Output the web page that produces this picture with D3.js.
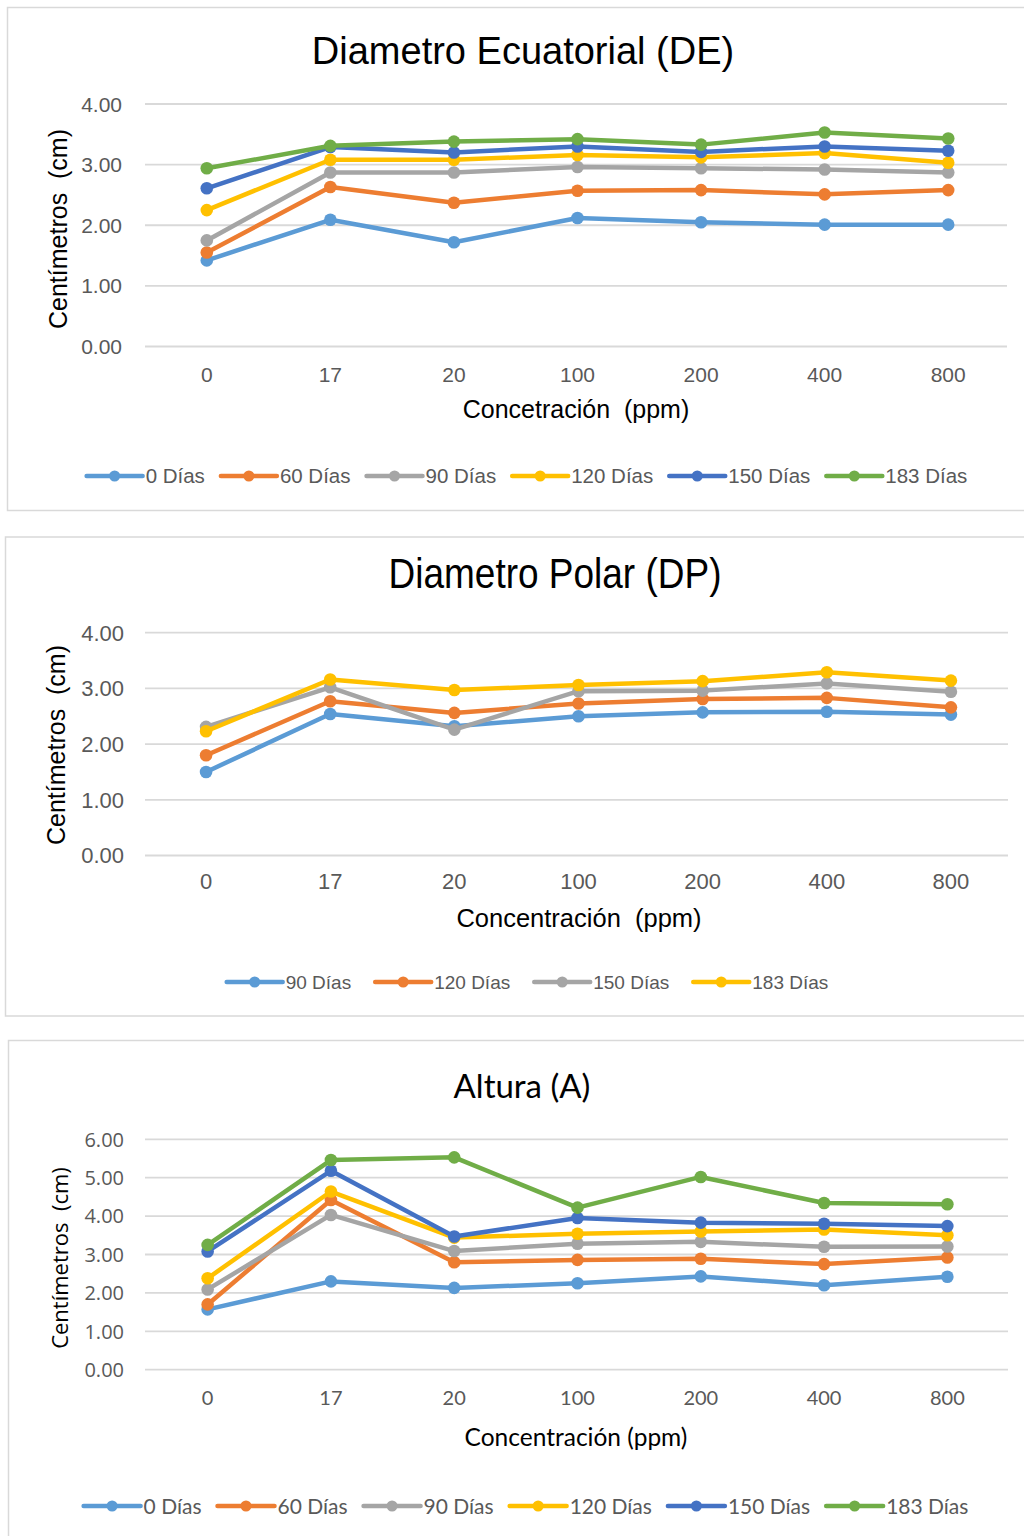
<!DOCTYPE html>
<html>
<head>
<meta charset="utf-8">
<script src="https://cdn.jsdelivr.net/npm/d3@7"></script>
<style>
  html, body { margin: 0; padding: 0; background: #fff; }
  svg { display: block; }
</style>
</head>
<body>
<svg id="c" width="1024" height="1536"></svg>
<script>
// ---------- DATA ----------
const categories = ["0", "17", "20", "100", "200", "400", "800"];

// Chart 1: Diametro Ecuatorial (DE)
const deSeriesNames = ["0 Días", "60 Días", "90 Días", "120 Días", "150 Días", "183 Días"];
const de0   = [1.42, 2.09, 1.72, 2.12, 2.05, 2.01, 2.01];
const de60  = [1.55, 2.63, 2.37, 2.57, 2.58, 2.51, 2.58];
const de90  = [1.75, 2.87, 2.87, 2.96, 2.94, 2.92, 2.87];
const de120 = [2.25, 3.08, 3.08, 3.16, 3.12, 3.19, 3.03];
const de150 = [2.61, 3.29, 3.20, 3.30, 3.21, 3.30, 3.23];
const de183 = [2.94, 3.31, 3.38, 3.42, 3.33, 3.53, 3.43];
const deTicks = [0, 1, 2, 3, 4];

// Chart 2: Diametro Polar (DP)
const dpSeriesNames = ["90 Días", "120 Días", "150 Días", "183 Días"];
const dp90  = [1.50, 2.54, 2.32, 2.50, 2.57, 2.58, 2.53];
const dp120 = [1.80, 2.77, 2.56, 2.73, 2.81, 2.83, 2.66];
const dp150 = [2.31, 3.02, 2.26, 2.95, 2.96, 3.09, 2.94];
const dp183 = [2.23, 3.16, 2.97, 3.06, 3.13, 3.29, 3.14];
const dpTicks = [0, 1, 2, 3, 4];

// Chart 3: Altura (A)
const aSeriesNames = ["0 Días", "60 Días", "90 Días", "120 Días", "150 Días", "183 Días"];
const a0   = [1.57, 2.30, 2.13, 2.25, 2.43, 2.20, 2.42];
const a60  = [1.70, 4.42, 2.80, 2.86, 2.89, 2.75, 2.92];
const a90  = [2.09, 4.03, 3.09, 3.28, 3.33, 3.20, 3.21];
const a120 = [2.38, 4.64, 3.44, 3.54, 3.60, 3.65, 3.50];
const a150 = [3.08, 5.18, 3.47, 3.95, 3.83, 3.80, 3.74];
const a183 = [3.25, 5.46, 5.53, 4.22, 5.02, 4.34, 4.31];
const aTicks = [0, 1, 2, 3, 4, 5, 6];

const palette6 = ["#5B9BD5", "#ED7D31", "#A5A5A5", "#FFC000", "#4472C4", "#70AD47"];
const palette4 = ["#5B9BD5", "#ED7D31", "#A5A5A5", "#FFC000"];

// ---------- DRAW ----------
const svg = d3.select("#c");
const ARIAL = "'Liberation Sans', Arial, sans-serif";
const CAL = "Lato, 'Open Sans', sans-serif";
const SEG = "'Open Sans', 'Noto Sans', sans-serif";

function drawChart(cfg) {
  const g = svg.append("g");
  // frame
  g.append("rect")
    .attr("x", cfg.frame[0]).attr("y", cfg.frame[1])
    .attr("width", cfg.frame[2]).attr("height", cfg.frame[3])
    .attr("fill", "#fff").attr("stroke", "#d9d9d9").attr("stroke-width", 1.5);

  const x = d3.scalePoint().domain(categories).range(cfg.xRange).padding(0.5);
  const y = d3.scaleLinear().domain([0, d3.max(cfg.ticks)]).range(cfg.yRange);

  // gridlines
  g.append("g").selectAll("line").data(cfg.ticks).join("line")
    .attr("x1", cfg.grid[0]).attr("x2", cfg.grid[1])
    .attr("y1", d => y(d)).attr("y2", d => y(d))
    .attr("stroke", "#d9d9d9").attr("stroke-width", 1.8);

  // y tick labels
  g.append("g").selectAll("text").data(cfg.ticks).join("text")
    .attr("x", cfg.yLabelX).attr("y", d => y(d))
    .attr("dy", "0.36em")
    .attr("text-anchor", "end")
    .attr("font-family", cfg.tickFont).attr("font-size", cfg.tickSize)
    .attr("fill", "#595959")
    .text(d => d3.format(".2f")(d));

  // x tick labels
  g.append("g").selectAll("text").data(categories).join("text")
    .attr("x", d => x(d)).attr("y", cfg.xLabelY)
    .attr("dy", "0.36em")
    .attr("text-anchor", "middle")
    .attr("font-family", cfg.xTickFont || cfg.tickFont).attr("font-size", cfg.xTickSize || cfg.tickSize)
    .attr("fill", "#595959")
    .text(d => d);

  // title
  g.append("text")
    .attr("text-anchor", "middle")
    .attr("font-family", cfg.titleFont).attr("font-size", cfg.titleSize)
    .attr("fill", "#000")
    .attr("transform", `translate(${cfg.titleX},${cfg.titleY}) scale(1,${cfg.titleStretch || 1})`)
    .text(cfg.title);

  // x-axis title
  g.append("text")
    .attr("x", cfg.xTitleX).attr("y", cfg.xTitleY).attr("dy", "0.36em")
    .attr("text-anchor", "middle")
    .attr("font-family", cfg.xTitleFont).attr("font-size", cfg.xTitleSize)
    .attr("fill", "#000")
    .style("white-space", "pre")
    .text(cfg.xTitle);

  // y-axis title
  g.append("text")
    .attr("transform", `translate(${cfg.yTitleX},${cfg.yTitleY}) rotate(-90)`)
    .attr("dy", "0.36em")
    .attr("text-anchor", "middle")
    .attr("font-family", cfg.yTitleFont).attr("font-size", cfg.yTitleSize)
    .attr("fill", "#000")
    .style("white-space", "pre")
    .text("Centímetros  (cm)");

  // series
  const line = d3.line().x((d, i) => x(categories[i])).y(d => y(d));
  cfg.series.forEach((vals, si) => {
    const col = cfg.colors[si];
    g.append("path").datum(vals)
      .attr("d", line).attr("fill", "none")
      .attr("stroke", col).attr("stroke-width", 4.5)
      .attr("stroke-linejoin", "round").attr("stroke-linecap", "round");
    g.append("g").selectAll("circle").data(vals).join("circle")
      .attr("cx", (d, i) => x(categories[i])).attr("cy", d => y(d))
      .attr("r", 6.3).attr("fill", col);
  });

  // legend
  const lg = g.append("g");
  const items = cfg.names.map((n, i) => {
    const it = lg.append("g");
    it.append("line").attr("x1", 0).attr("x2", cfg.legLine)
      .attr("y1", 0).attr("y2", 0)
      .attr("stroke", cfg.colors[i]).attr("stroke-width", 4.5).attr("stroke-linecap", "round");
    it.append("circle").attr("cx", cfg.legLine / 2).attr("cy", 0).attr("r", 5.5).attr("fill", cfg.colors[i]);
    const tx = it.append("text").attr("x", cfg.legLine + 3).attr("y", 0).attr("dy", "0.36em")
      .attr("font-family", cfg.legFont).attr("font-size", cfg.legSize).attr("fill", "#595959")
      .text(n);
    const w = cfg.legLine + 3 + tx.node().getComputedTextLength();
    return { it, w };
  });
  const total = d3.sum(items, d => d.w) + cfg.legGap * (items.length - 1);
  let cx = cfg.legCenter - total / 2;
  items.forEach(d => {
    d.it.attr("transform", `translate(${cx},${cfg.legY})`);
    cx += d.w + cfg.legGap;
  });
}

drawChart({
  frame: [7.5, 7.5, 1030, 503],
  xRange: [145, 1010], yRange: [346.5, 104],
  grid: [145, 1007], ticks: deTicks,
  yLabelX: 122, xLabelY: 374,
  tickFont: ARIAL, tickSize: 21,
  title: "Diametro Ecuatorial (DE)", titleFont: ARIAL, titleSize: 38, titleX: 523, titleY: 64,
  xTitle: "Concetración  (ppm)", xTitleFont: ARIAL, xTitleSize: 25, xTitleX: 576, xTitleY: 409,
  yTitleX: 58, yTitleY: 229, yTitleFont: ARIAL, yTitleSize: 25,
  series: [de0, de60, de90, de120, de150, de183], names: deSeriesNames, colors: palette6,
  legY: 476, legCenter: 527, legLine: 56, legGap: 16, legFont: ARIAL, legSize: 20.5
});

drawChart({
  frame: [5.5, 537, 1030, 479],
  xRange: [144, 1013], yRange: [855.5, 632.7],
  grid: [145, 1008], ticks: dpTicks,
  yLabelX: 124, xLabelY: 881,
  tickFont: ARIAL, tickSize: 22,
  title: "Diametro Polar (DP)", titleFont: ARIAL, titleSize: 37, titleX: 555, titleY: 588, titleStretch: 1.15,
  xTitle: "Concentración  (ppm)", xTitleFont: ARIAL, xTitleSize: 25.5, xTitleX: 579, xTitleY: 918,
  yTitleX: 56, yTitleY: 745, yTitleFont: ARIAL, yTitleSize: 25,
  series: [dp90, dp120, dp150, dp183], names: dpSeriesNames, colors: palette4,
  legY: 982, legCenter: 527.5, legLine: 56, legGap: 24, legFont: ARIAL, legSize: 19
});

drawChart({
  frame: [8.5, 1040.5, 1030, 520],
  xRange: [146, 1009], yRange: [1369.7, 1139.3],
  grid: [145, 1008], ticks: aTicks,
  yLabelX: 124, xLabelY: 1398,
  tickFont: SEG, tickSize: 20, xTickFont: CAL, xTickSize: 20,
  title: "Altura (A)", titleFont: CAL, titleSize: 33, titleX: 522, titleY: 1098,
  xTitle: "Concentración (ppm)", xTitleFont: CAL, xTitleSize: 24.5, xTitleX: 576, xTitleY: 1437,
  yTitleX: 60, yTitleY: 1258, yTitleFont: SEG, yTitleSize: 22,
  series: [a0, a60, a90, a120, a150, a183], names: aSeriesNames, colors: palette6,
  legY: 1506, legCenter: 526, legLine: 57, legGap: 16, legFont: CAL, legSize: 21
});
</script>
</body>
</html>
